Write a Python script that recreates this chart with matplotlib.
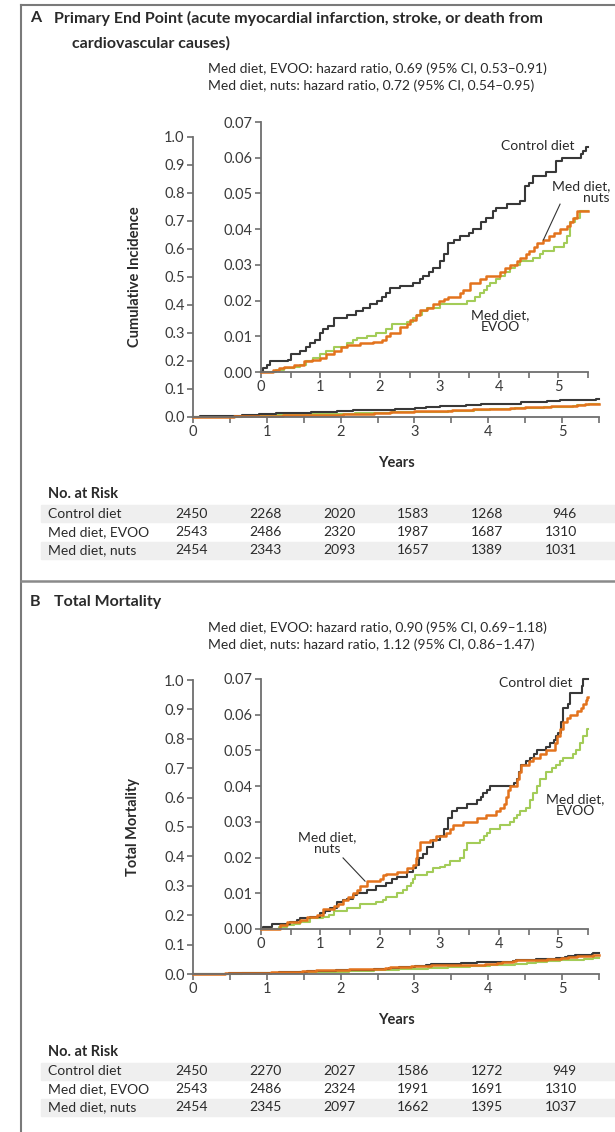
import numpy as np
import matplotlib
matplotlib.use('Agg')
import matplotlib.pyplot as plt
from matplotlib.transforms import blended_transform_factory
from matplotlib.patches import Rectangle
from matplotlib.lines import Line2D
from matplotlib.ticker import FormatStrFormatter

plt.rcParams['font.family'] = ['Lato', 'DejaVu Sans']

# ---------------- data ----------------
groups = ['Control diet', 'Med diet, EVOO', 'Med diet, nuts']
years = [0, 1, 2, 3, 4, 5]

hr_a = ['Med diet, EVOO: hazard ratio, 0.69 (95% CI, 0.53\u20130.91)',
        'Med diet, nuts: hazard ratio, 0.72 (95% CI, 0.54\u20130.95)']
hr_b = ['Med diet, EVOO: hazard ratio, 0.90 (95% CI, 0.69\u20131.18)',
        'Med diet, nuts: hazard ratio, 1.12 (95% CI, 0.86\u20131.47)']

risk_a = [[2450, 2268, 2020, 1583, 1268, 946],
          [2543, 2486, 2320, 1987, 1687, 1310],
          [2454, 2343, 2093, 1657, 1389, 1031]]
risk_b = [[2450, 2270, 2027, 1586, 1272, 949],
          [2543, 2486, 2324, 1991, 1691, 1310],
          [2454, 2345, 2097, 1662, 1395, 1037]]

# step curves: [years, cumulative value]
a_ctrl = np.array([[0, 0], [0.04, 0.001], [0.1, 0.002], [0.15, 0.003], [0.45, 0.0035], [0.5, 0.005],
                   [0.66, 0.006], [0.75, 0.007], [0.82, 0.008], [0.9, 0.009], [0.99, 0.011], [1.05, 0.012],
                   [1.12, 0.013], [1.22, 0.015], [1.44, 0.016], [1.6, 0.017], [1.72, 0.018], [1.83, 0.019],
                   [1.95, 0.020], [2.03, 0.021], [2.1, 0.022], [2.17, 0.0235], [2.34, 0.024], [2.56, 0.025],
                   [2.68, 0.026], [2.73, 0.027], [2.82, 0.028], [2.9, 0.029], [3.01, 0.031], [3.08, 0.033],
                   [3.15, 0.036], [3.25, 0.037], [3.35, 0.038], [3.5, 0.039], [3.57, 0.040], [3.7, 0.042],
                   [3.79, 0.043], [3.9, 0.045], [3.96, 0.046], [4.13, 0.047], [4.36, 0.048], [4.44, 0.052],
                   [4.5, 0.053], [4.58, 0.055], [4.8, 0.056], [4.97, 0.059], [5.06, 0.060], [5.38, 0.061],
                   [5.42, 0.062], [5.46, 0.063], [5.5, 0.063]])
a_nuts = np.array([[0, 0], [0.2, 0.0005], [0.3, 0.001], [0.38, 0.0015], [0.55, 0.002], [0.72, 0.003],
                   [0.85, 0.0035], [0.99, 0.004], [1.1, 0.005], [1.22, 0.006], [1.35, 0.007], [1.44, 0.0075],
                   [1.66, 0.008], [1.89, 0.0085], [2.03, 0.009], [2.1, 0.010], [2.17, 0.011], [2.34, 0.0125],
                   [2.45, 0.0135], [2.51, 0.0145], [2.6, 0.016], [2.67, 0.0175], [2.8, 0.018], [2.9, 0.019],
                   [3.0, 0.020], [3.07, 0.0205], [3.15, 0.021], [3.35, 0.022], [3.4, 0.023], [3.51, 0.025],
                   [3.68, 0.026], [3.79, 0.027], [4.02, 0.028], [4.1, 0.029], [4.19, 0.030], [4.3, 0.031],
                   [4.36, 0.032], [4.45, 0.033], [4.5, 0.034], [4.6, 0.035], [4.64, 0.036], [4.75, 0.037],
                   [4.85, 0.038], [4.92, 0.039], [5.03, 0.040], [5.14, 0.041], [5.2, 0.042], [5.25, 0.043],
                   [5.31, 0.045], [5.5, 0.045]])
a_evoo = np.array([[0, 0], [0.25, 0.0005], [0.38, 0.001], [0.55, 0.0015], [0.66, 0.002], [0.75, 0.003],
                   [0.88, 0.004], [0.99, 0.005], [1.1, 0.006], [1.22, 0.007], [1.44, 0.008], [1.55, 0.009],
                   [1.61, 0.0095], [1.78, 0.010], [1.94, 0.011], [2.11, 0.012], [2.2, 0.0135], [2.45, 0.014],
                   [2.55, 0.015], [2.62, 0.016], [2.7, 0.017], [2.79, 0.018], [3.01, 0.019], [3.46, 0.020],
                   [3.6, 0.021], [3.68, 0.022], [3.75, 0.023], [3.8, 0.024], [3.85, 0.025], [3.95, 0.026],
                   [4.02, 0.027], [4.1, 0.028], [4.19, 0.029], [4.28, 0.030], [4.36, 0.031], [4.58, 0.032],
                   [4.7, 0.033], [4.75, 0.034], [4.92, 0.035], [5.09, 0.036], [5.15, 0.038], [5.2, 0.042],
                   [5.28, 0.043], [5.36, 0.045], [5.5, 0.045]])

b_ctrl = np.array([[0, 0], [0.04, 0.0005], [0.18, 0.0015], [0.49, 0.002], [0.6, 0.0025], [0.66, 0.003],
                   [0.82, 0.0035], [0.99, 0.0045], [1.08, 0.005], [1.16, 0.006], [1.27, 0.0075], [1.38, 0.008],
                   [1.44, 0.0085], [1.55, 0.0095], [1.61, 0.010], [1.78, 0.011], [1.94, 0.012], [2.11, 0.013],
                   [2.2, 0.014], [2.28, 0.0145], [2.45, 0.016], [2.56, 0.017], [2.6, 0.018], [2.65, 0.020],
                   [2.72, 0.021], [2.79, 0.023], [2.9, 0.025], [3.01, 0.026], [3.08, 0.028], [3.15, 0.031],
                   [3.22, 0.033], [3.29, 0.034], [3.46, 0.035], [3.63, 0.036], [3.7, 0.037], [3.74, 0.038],
                   [3.8, 0.039], [3.85, 0.040], [4.25, 0.041], [4.3, 0.042], [4.34, 0.044], [4.38, 0.046],
                   [4.45, 0.047], [4.52, 0.048], [4.6, 0.049], [4.64, 0.050], [4.8, 0.051], [4.86, 0.052],
                   [4.92, 0.053], [4.97, 0.054], [5.0, 0.055], [5.04, 0.058], [5.08, 0.062], [5.17, 0.063],
                   [5.19, 0.066], [5.36, 0.066], [5.4, 0.068], [5.42, 0.070], [5.5, 0.070]])
b_nuts = np.array([[0, 0], [0.32, 0.001], [0.43, 0.002], [0.66, 0.0025], [0.77, 0.0035], [0.94, 0.004],
                   [1.05, 0.0055], [1.22, 0.0065], [1.3, 0.007], [1.38, 0.008], [1.47, 0.009], [1.55, 0.010],
                   [1.62, 0.011], [1.66, 0.012], [1.78, 0.0135], [2.0, 0.014], [2.05, 0.015], [2.11, 0.0155],
                   [2.28, 0.016], [2.45, 0.017], [2.56, 0.018], [2.6, 0.020], [2.63, 0.022], [2.67, 0.0245],
                   [2.84, 0.025], [2.95, 0.026], [3.12, 0.027], [3.18, 0.028], [3.23, 0.029], [3.4, 0.030],
                   [3.63, 0.031], [3.79, 0.032], [3.96, 0.033], [4.02, 0.034], [4.08, 0.035], [4.12, 0.037],
                   [4.16, 0.039], [4.19, 0.040], [4.3, 0.042], [4.34, 0.044], [4.38, 0.046], [4.5, 0.047],
                   [4.58, 0.048], [4.7, 0.049], [4.8, 0.050], [4.94, 0.052], [4.98, 0.054], [5.03, 0.056],
                   [5.08, 0.058], [5.14, 0.059], [5.2, 0.060], [5.31, 0.061], [5.38, 0.062], [5.42, 0.063],
                   [5.46, 0.064], [5.49, 0.065], [5.5, 0.065]])
b_evoo = np.array([[0, 0], [0.3, 0.0005], [0.43, 0.001], [0.55, 0.0015], [0.66, 0.002], [0.82, 0.003],
                   [1.05, 0.0035], [1.15, 0.004], [1.22, 0.005], [1.44, 0.006], [1.66, 0.007], [1.94, 0.0075],
                   [2.05, 0.008], [2.11, 0.009], [2.28, 0.010], [2.38, 0.011], [2.45, 0.012], [2.52, 0.013],
                   [2.56, 0.014], [2.59, 0.015], [2.79, 0.016], [2.9, 0.017], [3.01, 0.0175], [3.1, 0.018],
                   [3.18, 0.019], [3.35, 0.020], [3.42, 0.022], [3.46, 0.024], [3.68, 0.025], [3.75, 0.026],
                   [3.8, 0.027], [3.85, 0.028], [4.02, 0.029], [4.19, 0.030], [4.25, 0.031], [4.3, 0.032],
                   [4.36, 0.033], [4.45, 0.034], [4.52, 0.036], [4.58, 0.038], [4.64, 0.040], [4.7, 0.042],
                   [4.8, 0.044], [4.9, 0.045], [4.97, 0.046], [5.03, 0.047], [5.08, 0.048], [5.25, 0.049],
                   [5.3, 0.050], [5.36, 0.052], [5.42, 0.054], [5.48, 0.056], [5.5, 0.056]])

# ---------------- layout (pixels) ----------------
W, H = 615, 1132
C_CTRL, C_EVOO, C_NUTS = '#383838', '#a3cc58', '#e3731d'
TXT = '#2a2a2a'
AX_C = '#6e6e6e'
FS = 10           # body text
FS_TICK = 10.5

fig = plt.figure(figsize=(W / 100, H / 100), dpi=100)


def px_axes(left, top, right, bottom):
    return fig.add_axes([left / W, 1 - bottom / H, (right - left) / W, (bottom - top) / H])


def ftext(x, y, s, **kw):
    kw.setdefault('color', TXT)
    kw.setdefault('va', 'center')
    fig.text(x / W, 1 - y / H, s, **kw)


def style(ax, ymax, ystep, fmt):
    ax.patch.set_alpha(0)
    for s in ['top', 'right']:
        ax.spines[s].set_visible(False)
    for s in ['left', 'bottom']:
        ax.spines[s].set_color(AX_C)
        ax.spines[s].set_linewidth(1.3)
    ax.set_xlim(0, 5.5)
    ax.set_ylim(0, ymax)
    ax.set_xticks(years)
    ax.set_xticks([0.5, 1.5, 2.5, 3.5, 4.5, 5.5], minor=True)
    ax.set_yticks(np.arange(0, ymax + 1e-9, ystep))
    ax.yaxis.set_major_formatter(FormatStrFormatter(fmt))
    ax.tick_params(which='both', direction='out', length=4, width=1.2, color=AX_C,
                   labelsize=FS_TICK, labelcolor='#3a3a3a', pad=2)


def curves(ax, ctrl, evoo, nuts, lw):
    ax.step(evoo[:, 0], evoo[:, 1], where='post', color=C_EVOO, lw=lw, clip_on=False)
    ax.step(ctrl[:, 0], ctrl[:, 1], where='post', color=C_CTRL, lw=lw, clip_on=False)
    ax.step(nuts[:, 0], nuts[:, 1], where='post', color=C_NUTS, lw=lw + 0.3, clip_on=False)


def risk_table(ax, risk, y_head, rows):
    trans = blended_transform_factory(ax.transData, fig.transFigure)
    ftext(48, y_head, 'No. at Risk', fontsize=10.5, fontweight='bold')
    for i, (g, ry) in enumerate(zip(groups, rows)):
        if i != 1:
            fig.patches.append(Rectangle((41 / W, 1 - (ry + 8.5) / H), (W - 41) / W, 17 / H,
                                         transform=fig.transFigure, color='#efefef', zorder=-1))
        ftext(48, ry, g, fontsize=FS)
        for yr, n in zip(years, risk[i]):
            ax.text(yr + 0.2, 1 - ry / H, str(n), transform=trans, ha='right', va='center',
                    fontsize=FS, color=TXT)


# frame lines
fig.add_artist(Line2D([21 / W, 21 / W], [0, 1 - 5 / H], transform=fig.transFigure, color='#7a7a7a', lw=1.5))
fig.add_artist(Line2D([21 / W, 1], [1 - 5 / H, 1 - 5 / H], transform=fig.transFigure, color='#7a7a7a', lw=1.5))
fig.add_artist(Line2D([21 / W, 1], [1 - 581 / H, 1 - 581 / H], transform=fig.transFigure, color='#8a8a8a', lw=1.8))

# ---------------- panel A ----------------
ftext(30, 18, 'A', fontsize=11.5, fontweight='bold')
ftext(54, 18, 'Primary End Point (acute myocardial infarction, stroke, or death from', fontsize=11.5,
      fontweight='bold')
ftext(72, 43, 'cardiovascular causes)', fontsize=11.5, fontweight='bold')
ftext(208, 69, hr_a[0], fontsize=FS)
ftext(208, 86, hr_a[1], fontsize=FS)

axA = px_axes(193, 137, 599, 417)
style(axA, 1.0, 0.1, '%.1f')
curves(axA, a_ctrl, a_evoo, a_nuts, 1.5)
ftext(135, 277, 'Cumulative Incidence', fontsize=10.5, fontweight='bold', rotation=90, ha='center')
ftext(396, 463, 'Years', fontsize=10.5, fontweight='bold', ha='center')

insA = px_axes(261, 122, 588, 372)
style(insA, 0.07, 0.01, '%.2f')
curves(insA, a_ctrl, a_evoo, a_nuts, 1.5)
insA.text(5.27, 0.0632, 'Control diet', ha='right', va='center', fontsize=FS, color=TXT)
insA.text(5.87, 0.0504, 'Med diet,\nnuts', ha='right', va='center', fontsize=FS, color=TXT,
          linespacing=1.0, clip_on=False)
insA.plot([5.03, 4.75], [0.047, 0.037], color='#333333', lw=0.8)
insA.text(4.02, 0.0142, 'Med diet,\nEVOO', ha='center', va='center', fontsize=FS, color=TXT, linespacing=1.0)

risk_table(axA, risk_a, 494, [514, 532, 550])

# ---------------- panel B ----------------
ftext(30, 602, 'B', fontsize=11.5, fontweight='bold')
ftext(54, 602, 'Total Mortality', fontsize=11.5, fontweight='bold')
ftext(208, 628, hr_b[0], fontsize=FS)
ftext(208, 645, hr_b[1], fontsize=FS)

axB = px_axes(193, 680, 599, 974)
style(axB, 1.0, 0.1, '%.1f')
curves(axB, b_ctrl, b_evoo, b_nuts, 1.5)
ftext(133, 827, 'Total Mortality', fontsize=10.5, fontweight='bold', rotation=90, ha='center')
ftext(396, 1020, 'Years', fontsize=10.5, fontweight='bold', ha='center')

insB = px_axes(261, 679, 588, 929)
style(insB, 0.07, 0.01, '%.2f')
curves(insB, b_ctrl, b_evoo, b_nuts, 1.5)
insB.text(5.24, 0.0689, 'Control diet', ha='right', va='center', fontsize=FS, color=TXT)
insB.text(5.28, 0.0346, 'Med diet,\nEVOO', ha='center', va='center', fontsize=FS, color=TXT,
          linespacing=1.0, clip_on=False)
insB.text(1.12, 0.0241, 'Med diet,\nnuts', ha='center', va='center', fontsize=FS, color=TXT, linespacing=1.0)
insB.plot([1.38, 1.75], [0.0199, 0.0134], color='#333333', lw=0.8)

risk_table(axB, risk_b, 1052, [1071, 1089, 1107])

fig.savefig('out.png', dpi=100, facecolor='white')
